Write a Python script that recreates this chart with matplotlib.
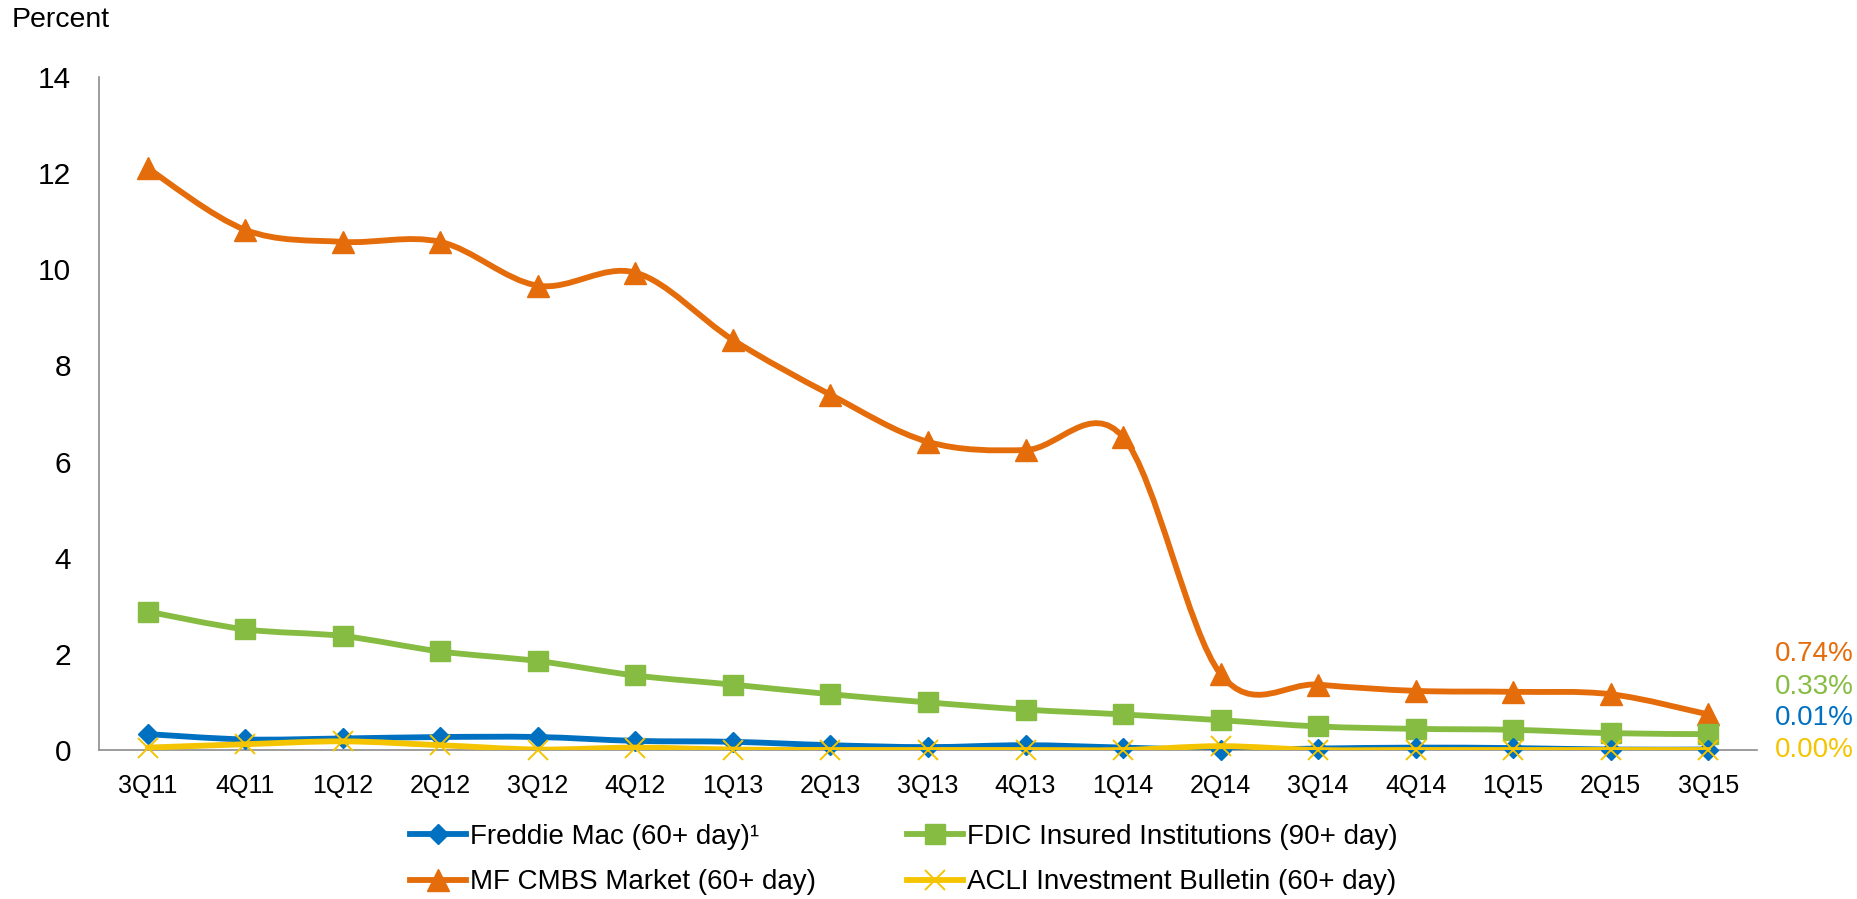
import matplotlib
matplotlib.use('Agg')
import matplotlib.pyplot as plt
import numpy as np
from matplotlib.path import Path
from matplotlib.patches import PathPatch
from matplotlib.lines import Line2D

plt.rcParams['font.family'] = ['Liberation Sans', 'DejaVu Sans']

quarters = ['3Q11', '4Q11', '1Q12', '2Q12', '3Q12', '4Q12', '1Q13', '2Q13', '3Q13',
            '4Q13', '1Q14', '2Q14', '3Q14', '4Q14', '1Q15', '2Q15', '3Q15']

freddie = [0.33, 0.22, 0.24, 0.27, 0.27, 0.19, 0.17, 0.10, 0.06, 0.10, 0.05, 0.00,
           0.03, 0.05, 0.04, 0.01, 0.01]
fdic = [2.88, 2.51, 2.37, 2.05, 1.85, 1.55, 1.36, 1.16, 0.99, 0.84, 0.74, 0.62,
        0.49, 0.44, 0.42, 0.35, 0.33]
cmbs = [12.10, 10.82, 10.57, 10.57, 9.66, 9.93, 8.53, 7.39, 6.41, 6.24, 6.51, 1.58,
        1.36, 1.23, 1.21, 1.16, 0.74]
acli = [0.05, 0.12, 0.18, 0.10, 0.01, 0.05, 0.01, 0.00, 0.00, 0.00, 0.00, 0.08,
        0.00, 0.00, 0.00, 0.00, 0.00]

labels = ['Freddie Mac (60+ day)\u00b9', 'FDIC Insured Institutions (90+ day)',
          'MF CMBS Market (60+ day)', 'ACLI Investment Bulletin (60+ day)']

BLUE = '#0070C0'
GREEN = '#86BC42'
ORANGE = '#E46C0A'
YELLOW = '#F5C400'
LW = 4.2


def smooth_path(x, y):
    # Excel-like smoothed line: Catmull-Rom as cubic bezier segments
    pts = np.column_stack([x, y]).astype(float)
    n = len(pts)
    verts = [pts[0]]
    codes = [Path.MOVETO]
    for i in range(n - 1):
        p0 = pts[i - 1] if i > 0 else pts[i]
        p1 = pts[i]
        p2 = pts[i + 1]
        p3 = pts[i + 2] if i + 2 < n else pts[i + 1]
        c1 = p1 + (p2 - p0) / 6.0
        c2 = p2 - (p3 - p1) / 6.0
        verts += [c1, c2, p2]
        codes += [Path.CURVE4] * 3
    return Path(verts, codes)


fig = plt.figure(figsize=(18.58, 8.99), dpi=100)
ax = fig.add_axes([99 / 1858, 1 - 750 / 899, (1757 - 99) / 1858, (750 - 77) / 899])

x = np.arange(len(quarters))

mk_freddie = dict(marker='D', markersize=10)
mk_fdic = dict(marker='s', markersize=14.5)
mk_cmbs = dict(marker='^', markersize=16)
mk_acli = dict(marker='x', markersize=15, markeredgewidth=1.4)

series = [
    (cmbs, ORANGE, mk_cmbs, 2),
    (fdic, GREEN, mk_fdic, 3),
    (freddie, BLUE, mk_freddie, 4),
    (acli, YELLOW, mk_acli, 5),
]

for vals, col, mk, z in series:
    patch = PathPatch(smooth_path(x, vals), facecolor='none', edgecolor=col,
                      lw=LW, capstyle='round', joinstyle='round', zorder=z)
    ax.add_patch(patch)
    ax.plot(x, vals, ls='none', color=col, markeredgecolor=col, zorder=z + 0.5,
            clip_on=False, **mk)

ax.set_xlim(-0.5, len(quarters) - 0.5)
ax.set_ylim(0, 14)
ax.set_yticks(range(0, 15, 2))
ax.set_xticks(x)
ax.set_xticklabels(quarters)
ax.tick_params(axis='x', length=0, pad=17, labelsize=18)
ax.tick_params(axis='y', length=0, pad=20, labelsize=21.5)
for s in ['top', 'right']:
    ax.spines[s].set_visible(False)
for s in ['left', 'bottom']:
    ax.spines[s].set_color('#8C8C8C')
    ax.spines[s].set_linewidth(1.2)

fig.text(12 / 1858, 1 - 20 / 899, 'Percent', fontsize=20.5, ha='left', va='center')

# latest values at the right edge
last_vals = [(cmbs[-1], ORANGE, 654), (fdic[-1], GREEN, 687),
             (freddie[-1], BLUE, 718), (acli[-1], YELLOW, 750)]
for v, col, ypx in last_vals:
    fig.text(1775 / 1858, 1 - ypx / 899, f'{v:.2f}%', color=col, fontsize=20,
             ha='left', va='center')

handles = [
    Line2D([], [], color=BLUE, lw=LW, **mk_freddie),
    Line2D([], [], color=ORANGE, lw=LW, **mk_cmbs),
    Line2D([], [], color=GREEN, lw=LW, **mk_fdic),
    Line2D([], [], color=YELLOW, lw=LW, **mk_acli),
]
leg_labels = [labels[0], labels[2], labels[1], labels[3]]
fig.legend(handles, leg_labels, ncol=2, loc='upper left',
           bbox_to_anchor=(410 / 1858, 1 - 824 / 899), frameon=False, fontsize=20,
           handlelength=2.0, handletextpad=0.15, columnspacing=3.3,
           labelspacing=0.7, borderpad=0, borderaxespad=0)

fig.savefig('out.png', dpi=100)
